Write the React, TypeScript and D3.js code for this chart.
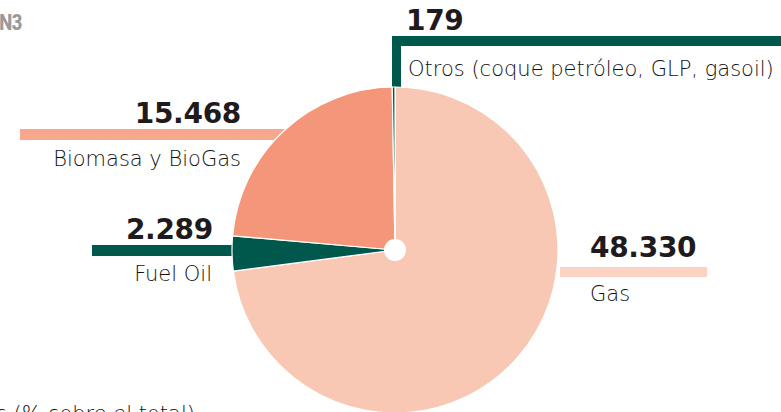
import React from "react";
import * as d3 from "d3";

const categories = ["Gas", "Fuel Oil", "Biomasa y BioGas", "Otros (coque petróleo, GLP, gasoil)"];
const values = [48330, 2289, 15468, 179];
const valueLabels = ["48.330", "2.289", "15.468", "179"];
const sliceColors = ["#F9C8B4", "#00584D", "#F4967A", "#00584D"];
const barColors = ["#FCD3C2", "#00584D", "#F7A78E", "#00584D"];

const W = 781, H = 412;
const cx = 395, cy = 250, R = 163;

export default function App() {
  const pie = d3.pie<number>().sort(null).startAngle(0).endAngle(2 * Math.PI);
  const arcs = pie(values);
  const arc = d3.arc<d3.PieArcDatum<number>>().innerRadius(0).outerRadius(R);
  const numFont = "'DejaVu Sans', sans-serif";
  const lblFont = "'DejaVu Sans', sans-serif";
  const numStyle = { fontFamily: numFont, fontSize: 28, fontWeight: 700, fill: "#1f1b1c", letterSpacing: -0.3 } as const;
  const lblStyle = { fontFamily: lblFont, fontSize: 21, fontWeight: 200, fill: "#111" } as const;
  return (
    <svg width={W} height={H} style={{ position: "absolute", left: 0, top: 0 }}>
      <rect width={W} height={H} fill="#fff" />
      <text x={-1} y={30} fontSize={22} fontWeight={700} fill="#9a9a9a" fontFamily="'Liberation Sans Narrow', 'Roboto Condensed', Roboto, sans-serif" letterSpacing={-1}>N3</text>
      {/* leader bars (beneath pie) */}
      <rect x={560} y={267} width={147} height={10} fill={barColors[0]} />
      <rect x={92} y={245} width={200} height={11} fill={barColors[1]} />
      <rect x={20} y={129} width={300} height={11} fill={barColors[2]} />
      <rect x={392} y={36} width={389} height={10} fill={barColors[3]} />
      <rect x={392} y={36} width={9} height={80} fill={barColors[3]} />
      <g transform={`translate(${cx},${cy})`}>
        {arcs.map((a, i) => (
          <path key={categories[i]} d={arc(a) || ""} fill={sliceColors[i]} stroke="#fff" strokeWidth={1.2} strokeLinejoin="round" />
        ))}
        <circle r={11} fill="#fff" />
      </g>
      {/* labels */}
      <text x={590} y={257} style={numStyle}>{valueLabels[0]}</text>
      <text x={590} y={301} style={lblStyle}>{categories[0]}</text>
      <text x={213} y={239} textAnchor="end" style={numStyle}>{valueLabels[1]}</text>
      <text x={212} y={281} textAnchor="end" style={lblStyle}>{categories[1]}</text>
      <text x={241} y={123} textAnchor="end" style={numStyle}>{valueLabels[2]}</text>
      <text x={241} y={166} textAnchor="end" style={lblStyle}>{categories[2]}</text>
      <text x={406} y={30} style={numStyle}>{valueLabels[3]}</text>
      <text x={408} y={76} style={lblStyle}>{categories[3]}</text>
      <text x={-4} y={421} style={lblStyle}>s (% sobre el total)</text>
    </svg>
  );
}
